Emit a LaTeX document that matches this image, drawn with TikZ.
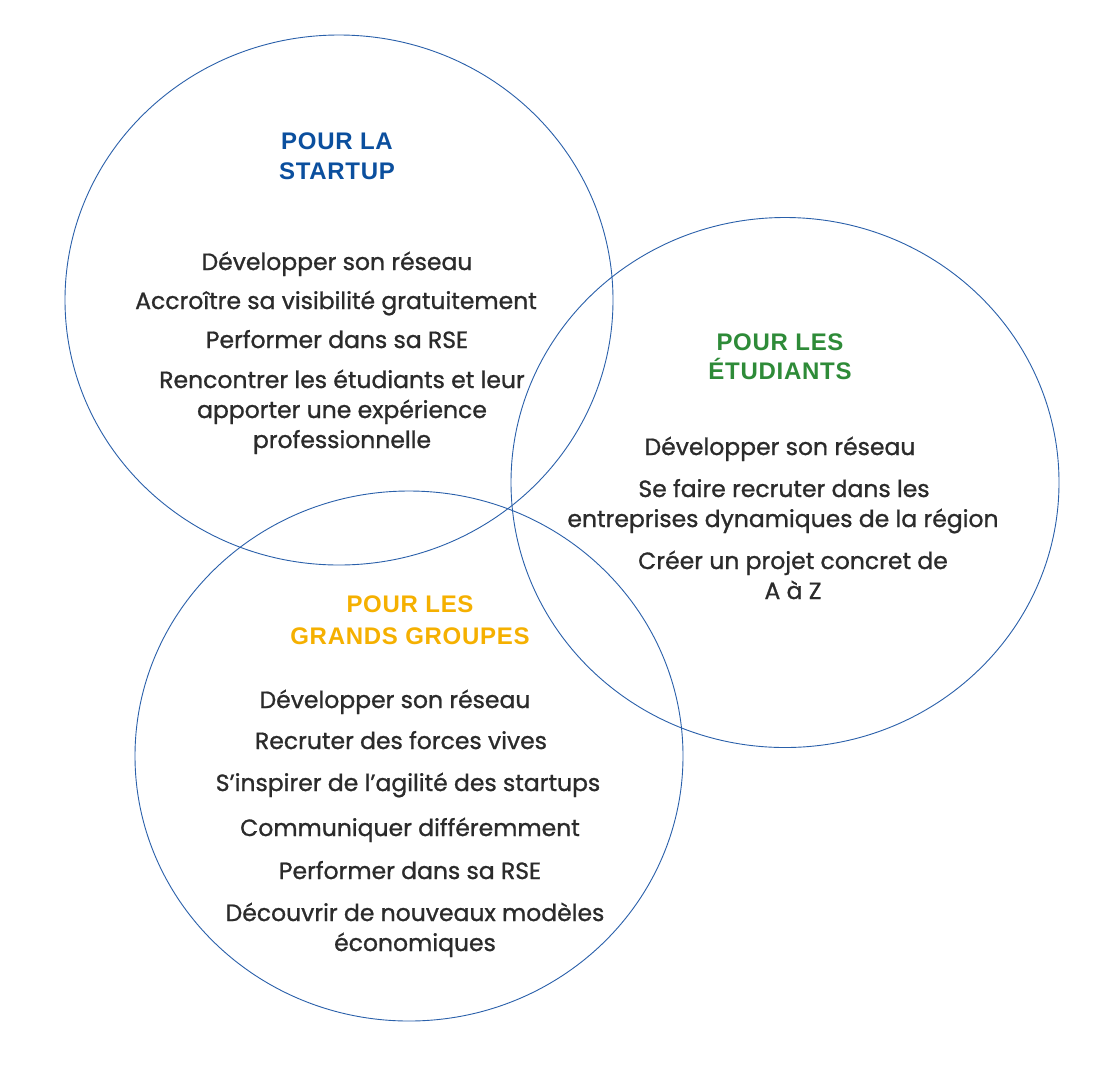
\documentclass[tikz,border=0pt]{standalone}
\usepackage{fontspec}
\setmainfont{Poppins}[FakeBold=1]
\newfontfamily\titlefont{Liberation Sans}[LetterSpace=3]
\definecolor{ringblue}{HTML}{2A60AA}
\definecolor{tblue}{HTML}{0B4F9E}
\definecolor{tgreen}{HTML}{2E8B38}
\definecolor{torange}{HTML}{F5B000}
\definecolor{bodytxt}{HTML}{2B2B2B}
\begin{document}
\begin{tikzpicture}[x=1pt,y=-1pt,
  ring/.style={draw=ringblue,line width=0.9pt},
  item/.style={anchor=base,inner sep=0pt,text=bodytxt,font=\fontsize{23.5}{30}\selectfont},
  ttl/.style={anchor=base,inner sep=0pt,font=\titlefont\bfseries\fontsize{24}{30}\selectfont}]
\useasboundingbox (0,0) rectangle (1099,1080);
\fill[white] (0,0) rectangle (1099,1080);
% rings
\draw[ring] (339,300) ellipse [x radius=274, y radius=265];
\draw[ring] (785,482.5) ellipse [x radius=274, y radius=265];
\draw[ring] (409,756) ellipse [x radius=274, y radius=265];
% startup
\node[ttl,text=tblue] (s1) at (337,149.5) {POUR LA};
\node[ttl,text=tblue] (s2) at (337,179.5) {STARTUP};
\node[item] (sa) at (337,270) {Développer son réseau};
\node[item] (sb) at (336,309) {Accroître sa visibilité gratuitement};
\node[item] (sc) at (337,348) {Performer dans sa RSE};
\node[item] (sd1) at (342,388) {Rencontrer les étudiants et leur};
\node[item] (sd2) at (342,418) {apporter une expérience};
\node[item] (sd3) at (342,448) {professionnelle};
% etudiants
\node[ttl,text=tgreen] (e1) at (780,350.5) {POUR LES};
\node[ttl,text=tgreen] (e2) at (780,379.5) {ÉTUDIANTS};
\node[item] (ea) at (780,455) {Développer son réseau};
\node[item] (eb1) at (784,497) {Se faire recruter dans les};
\node[item] (eb2) at (783,527) {entreprises dynamiques de la région};
\node[item] (ec1) at (793,569) {Créer un projet concret de};
\node[item] (ec2) at (793,599) {A à Z};
% grands groupes
\node[ttl,text=torange] (g1) at (410,612.5) {POUR LES};
\node[ttl,text=torange] (g2) at (410,644.5) {GRANDS GROUPES};
\node[item] (ga) at (395,708) {Développer son réseau};
\node[item] (gb) at (401,749) {Recruter des forces vives};
\node[item] (gc) at (408,791) {S’inspirer de l’agilité des startups};
\node[item] (gd) at (410,836) {Communiquer différemment};
\node[item] (ge) at (410,879) {Performer dans sa RSE};
\node[item] (gf1) at (415,921) {Découvrir de nouveaux modèles};
\node[item] (gf2) at (415,951) {économiques};
\end{tikzpicture}
\end{document}
